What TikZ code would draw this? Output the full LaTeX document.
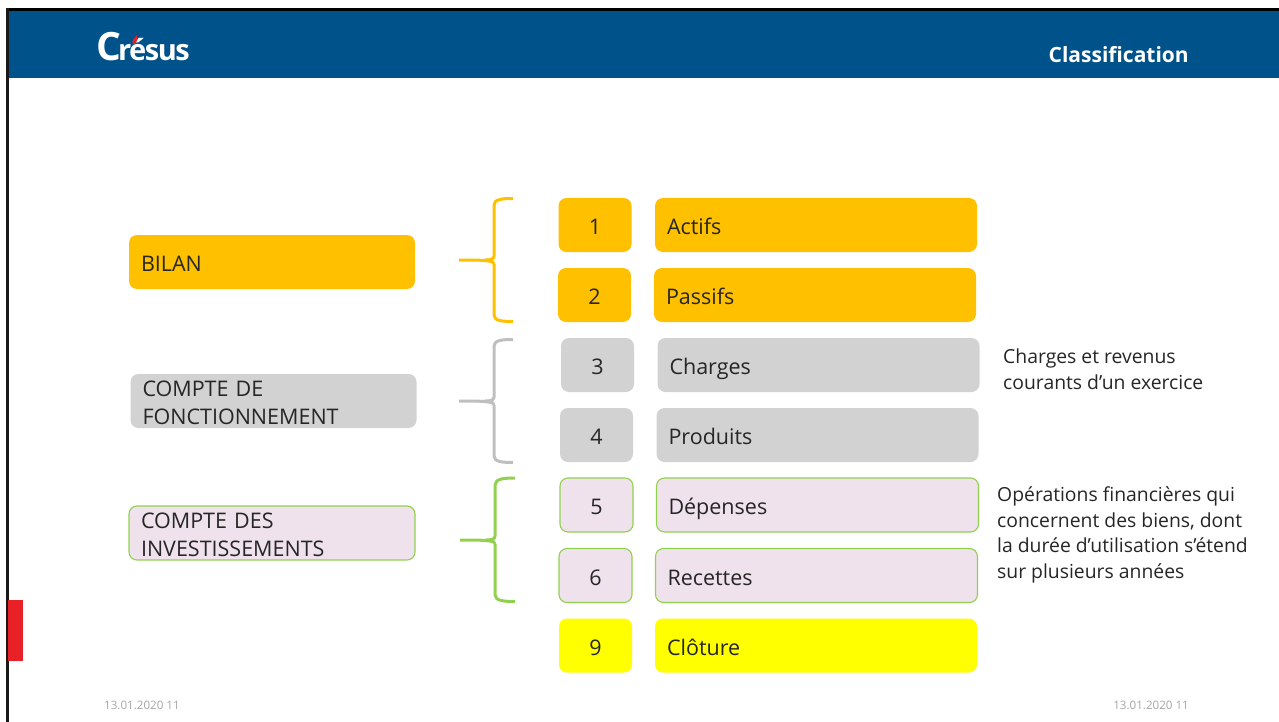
\documentclass[tikz,border=0pt]{standalone}
\usepackage{fontspec}
\setmainfont{Open Sans}
\newfontfamily\logofont[LetterSpace=-5]{Open Sans}
\definecolor{hdr}{HTML}{00528A}
\definecolor{amber}{HTML}{FFC000}
\definecolor{lgrey}{HTML}{D2D2D2}
\definecolor{bgrey}{HTML}{BFBFBF}
\definecolor{mauve}{HTML}{EFE2EC}
\definecolor{lgreen}{HTML}{92D050}
\definecolor{yell}{HTML}{FFFF00}
\definecolor{ink}{HTML}{262626}
\definecolor{foot}{HTML}{A6A6A6}
\definecolor{redbar}{HTML}{E82127}
\newcommand\dn[1]{\raisebox{-1.5pt}[16pt][0pt]{#1}}
\tikzset{
  x=1pt,y=-1pt,
  boxbase/.style={rounded corners=8pt,inner sep=0pt,outer sep=0pt,minimum height=54pt,text=ink,font=\fontsize{21.5}{28}\selectfont},
  numbox/.style={boxbase,minimum width=73pt,align=center},
  labbox/.style={boxbase,minimum width=322pt,text width=298pt,align=left},
  catbox/.style={boxbase,minimum width=286pt,text width=262pt,align=left},
  amberfill/.style={fill=amber},
  greyfill/.style={fill=lgrey},
  mauvefill/.style={fill=mauve,draw=lgreen,line width=1.1pt},
  yellfill/.style={fill=yell},
  bracepath/.style={line width=3pt,line cap=butt,line join=round},
  note/.style={inner sep=0pt,anchor=north west,align=left,text=ink,font=\fontsize{19.35}{25.5}\selectfont},
  footer/.style={inner sep=0pt,text=foot,font=\fontsize{11.6}{13}\selectfont},
}
\begin{document}
\begin{tikzpicture}
\useasboundingbox (0,0) rectangle (1279,722);
\fill[white] (0,0) rectangle (1279,722);
% frame and header
\fill[black] (6,8) rectangle (1279,11);
\fill[black!90] (6,8) rectangle (9,722);
\fill[hdr] (9,11) rectangle (1279,78);
\fill[redbar] (8,600) rectangle (23,661);
\node[inner sep=0pt,text=white,anchor=base west] (logo) at (96,61)
  {\logofont\bfseries\fontsize{39}{40}\selectfont C\kern-3pt\fontsize{29}{40}\selectfont résus};
\fill[redbar] (133,44) .. controls (131,41) and (134,39) .. (137,35) .. controls (138,39) and (137,42) .. (135,44) -- cycle;
\node[inner sep=0pt,text=white,font=\fontsize{21}{24}\bfseries\selectfont,anchor=east] (title) at (1189,55) {Classification};
% left categories
\node[catbox,amberfill] (bilan) at (272,262) {\dn{BILAN}};
\node[catbox,greyfill] (fonct) at (273.5,401) {\dn{COMPTE DE}\\\dn{FONCTIONNEMENT}};
\node[catbox,mauvefill] (inv) at (272,533) {\dn{COMPTE DES}\\\dn{INVESTISSEMENTS}};
% number boxes
\node[numbox,amberfill] (n1) at (595,225) {\dn{1}};
\node[numbox,amberfill] (n2) at (594.5,295) {\dn{2}};
\node[numbox,greyfill] (n3) at (597.5,365) {\dn{3}};
\node[numbox,greyfill] (n4) at (596.5,435) {\dn{4}};
\node[numbox,mauvefill] (n5) at (596.5,505) {\dn{5}};
\node[numbox,mauvefill] (n6) at (595.5,575.5) {\dn{6}};
\node[numbox,yellfill] (n9) at (595.5,645.5) {\dn{9}};
% label boxes
\node[labbox,amberfill] (l1) at (816,225) {\dn{Actifs}};
\node[labbox,amberfill] (l2) at (815,295) {\dn{Passifs}};
\node[labbox,greyfill] (l3) at (818.5,365) {\dn{Charges}};
\node[labbox,greyfill] (l4) at (817.5,435) {\dn{Produits}};
\node[labbox,mauvefill] (l5) at (817.5,505) {\dn{Dépenses}};
\node[labbox,mauvefill] (l6) at (816.5,575.5) {\dn{Recettes}};
\node[labbox,yellfill] (l9) at (816,645.5) {\dn{Clôture}};
% braces
\coordinate (by) at (459,260);
\coordinate (bg) at (459,401);
\coordinate (bv) at (460,540);
\draw[bracepath,amber] (by) .. controls (475,260) and (487,260) .. (493,262)
  (513,198.5) .. controls (503,198.5) and (494,199) .. (494,205) -- (494,256)
  .. controls (494,259) and (491,260) .. (485,260)
  (494,264) .. controls (494,262) and (492,261) .. (488,260.5)
  (494,264) -- (494,315) .. controls (494,321) and (503,321.5) .. (513,321.5);
\draw[bracepath,bgrey] (bg) .. controls (475,401) and (487,401) .. (493,403)
  (513,339.5) .. controls (503,339.5) and (494,340) .. (494,346) -- (494,397)
  .. controls (494,400) and (491,401) .. (485,401)
  (494,405) .. controls (494,403) and (492,402) .. (488,401.5)
  (494,405) -- (494,456) .. controls (494,462) and (503,462.5) .. (513,462.5);
\draw[bracepath,lgreen] (bv) .. controls (476,540) and (488,540) .. (494,542)
  (515,478) .. controls (505,478) and (495,478.5) .. (495,485) -- (495,536)
  .. controls (495,539) and (492,540) .. (486,540)
  (495,544) .. controls (495,542) and (493,541) .. (489,540.5)
  (495,544) -- (495,595) .. controls (495,601) and (505,601.5) .. (515,601.5);
% notes
\node[note] (note1) at (1003,349) {Charges et revenus\\courants d’un exercice};
\node[note] (note2) at (997,486.5) {Opérations financières qui\\concernent des biens, dont\\la durée d’utilisation s’étend\\sur plusieurs années};
% footers
\node[footer,anchor=west] (f1) at (104,705.5) {13.01.2020 11};
\node[footer,anchor=east] (f2) at (1189,705.5) {13.01.2020 11};
\end{tikzpicture}
\end{document}
